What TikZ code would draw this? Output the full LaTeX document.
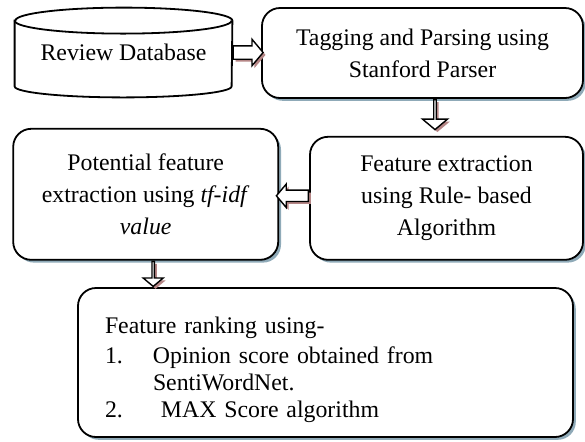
\documentclass[tikz,border=0pt]{standalone}
\usepackage{fontspec}
\setmainfont{Liberation Serif}
\usetikzlibrary{positioning,shapes.arrows,shadows,backgrounds}
\definecolor{Slate}{HTML}{8FAAB8}
\definecolor{Rosewood}{HTML}{B58686}

\begin{document}
\begin{tikzpicture}[x=0.5pt,y=-0.5pt,
every node/.style={font=\fontsize{11.9pt}{16pt}\selectfont,align=center},
box/.style={draw,line width=0.9pt,rounded corners=9pt,fill=white,
  drop shadow={shadow xshift=1.4pt,shadow yshift=-1.4pt,fill=Slate,opacity=1}},
flow/.style={single arrow,draw,line width=0.7pt,fill=white,inner sep=0pt,
  text height=6pt,text depth=0pt,minimum width=12.5pt,single arrow head extend=3.25pt,
  single arrow tip angle=100,anchor=tail,
  drop shadow={shadow xshift=1.2pt,shadow yshift=-1.2pt,fill=Rosewood,opacity=1}}]
\useasboundingbox (0,0) rectangle (585,441);

\node[minimum width=108.5pt,minimum height=44.5pt] (db) at (123.5,52.5) {Review Database};
\node[box,minimum width=160.5pt,minimum height=45pt] (tag) at (422.5,53) {Tagging and Parsing using\\Stanford Parser};
\node[box,minimum width=136.5pt,minimum height=61.5pt,below=18.5pt of tag.south east,anchor=north east] (feat)
  {Feature extraction\\using Rule- based\\Algorithm};
\node[box,minimum width=132.5pt,minimum height=65.5pt,left=15pt of feat,yshift=2pt] (pot)
  {Potential feature\\extraction using \textit{tf-idf}\\\textit{value}};
\node[box,minimum height=74.5pt,text width=220.5pt,inner xsep=13.5pt,align=left,
  font=\fontsize{11.9pt}{13.5pt}\selectfont] (rank) at (325.5,362.5)
  {\rule{0pt}{16pt}Feature ranking using-\\[1.5pt]
   \makebox[24pt][l]{1.}Opinion score obtained from\\
   \hspace*{24pt}SentiWordNet.\\
   \makebox[24pt][l]{2.}\ MAX Score algorithm};

% database drum behind its label
\begin{scope}[on background layer]
\fill[Slate,shift={(3,3)}] ([yshift=-6.5pt]db.north west) -- ([yshift=5.5pt]db.south west)
  arc[start angle=180,end angle=360,x radius=54.25pt,y radius=5.5pt]
  -- ([yshift=-6.5pt]db.north east)
  arc[start angle=0,end angle=180,x radius=54.25pt,y radius=6.5pt] -- cycle;
\draw[line width=0.9pt,fill=white] ([yshift=-6.5pt]db.north west) -- ([yshift=5.5pt]db.south west)
  arc[start angle=180,end angle=360,x radius=54.25pt,y radius=5.5pt]
  -- ([yshift=-6.5pt]db.north east)
  arc[start angle=0,end angle=180,x radius=54.25pt,y radius=6.5pt] -- cycle;
\draw[line width=0.9pt] ([yshift=-6.5pt]db.north west)
  arc[start angle=180,end angle=360,x radius=54.25pt,y radius=6.5pt];
\end{scope}

% block arrows between the steps
\node[flow,minimum height=15pt] (a1) at (db.east) {};
\node[flow,minimum height=15pt,shape border rotate=270] (a2) at ([xshift=6.25pt]tag.south) {};
\node[flow,minimum height=16pt,shape border rotate=180,text height=5pt,minimum width=11.5pt,single arrow head extend=3pt] (a3) at ([yshift=1.25pt]feat.west) {};
\node[flow,minimum height=12.5pt,shape border rotate=270,minimum width=10pt,single arrow head extend=2.5pt] (a4) at ([xshift=3.75pt]pot.south) {};
\end{tikzpicture}
\end{document}
